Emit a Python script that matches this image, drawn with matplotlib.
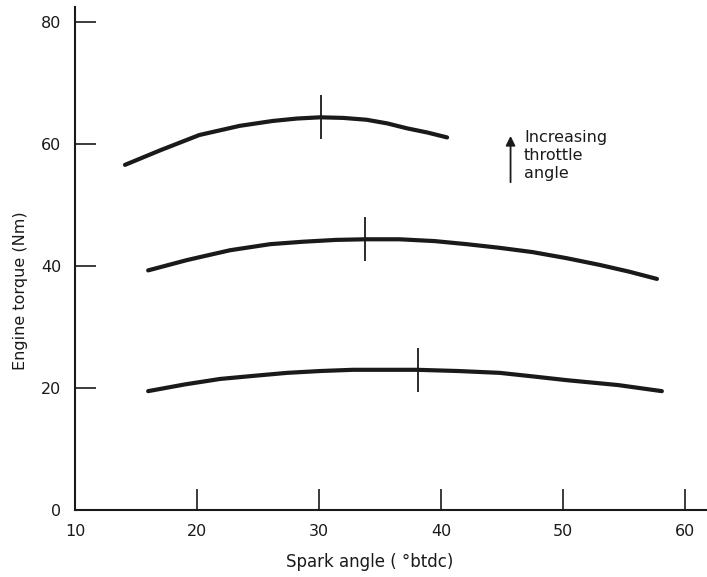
import matplotlib
matplotlib.use("Agg")
import matplotlib.pyplot as plt

# spark angle (deg btdc) vs engine torque (Nm)
top_x = [14.1, 17.0, 20.2, 23.5, 26.2, 28.2, 30.1, 32.0, 33.9, 35.6, 37.2, 38.9, 40.5]
top_y = [56.6, 59.0, 61.5, 63.0, 63.8, 64.2, 64.4, 64.3, 64.0, 63.4, 62.6, 61.9, 61.1]

mid_x = [16.0, 19.2, 22.7, 26.0, 28.7, 31.4, 33.8, 36.6, 39.5, 42.1, 44.8, 47.5, 50.3, 53.0, 55.4, 57.7]
mid_y = [39.3, 41.0, 42.6, 43.6, 44.0, 44.3, 44.4, 44.4, 44.1, 43.6, 43.0, 42.3, 41.3, 40.2, 39.1, 37.9]

low_x = [16.0, 19.0, 21.9, 24.6, 27.4, 30.1, 32.8, 35.4, 38.0, 41.4, 44.8, 47.6, 50.3, 52.4, 54.5, 56.3, 58.1]
low_y = [19.5, 20.6, 21.5, 22.0, 22.5, 22.8, 23.0, 23.0, 23.0, 22.8, 22.5, 21.9, 21.3, 20.9, 20.5, 20.0, 19.5]

# maximum brake torque points (short vertical marks)
mbt_x = [30.2, 33.8, 38.1]
mbt_y = [64.4, 44.4, 23.0]

xticks = [10, 20, 30, 40, 50, 60]
yticks = [0, 20, 40, 60, 80]

plt.rcParams["font.family"] = "DejaVu Sans"
ink = "#1a1a1a"

fig = plt.figure(figsize=(7.07, 5.77), dpi=100)
ax = fig.add_axes([0.106, 0.116, 0.894, 0.872])

for xs, ys in [(top_x, top_y), (mid_x, mid_y), (low_x, low_y)]:
    ax.plot(xs, ys, color=ink, linewidth=3.0, solid_capstyle="round",
            solid_joinstyle="round")

ax.plot(mbt_x, mbt_y, linestyle="none", marker="|", markersize=31,
        markeredgewidth=1.3, color=ink)

ax.annotate("", xy=(45.7, 61.8), xytext=(45.7, 53.3),
            arrowprops=dict(arrowstyle="-|>", color=ink, lw=1.3,
                            mutation_scale=14))
ax.text(46.8, 62.3, "Increasing\nthrottle\nangle", fontsize=11.5,
        color=ink, va="top", ha="left", linespacing=1.25)

ax.set_xlim(10, 61.8)
ax.set_ylim(0, 82.5)
ax.set_xticks(xticks)
ax.set_yticks(yticks)
ax.tick_params(direction="in", length=15, width=1.2, colors=ink,
               labelsize=11.5, pad=10)

ax.spines["top"].set_visible(False)
ax.spines["right"].set_visible(False)
for s in ["left", "bottom"]:
    ax.spines[s].set_linewidth(1.5)
    ax.spines[s].set_color(ink)

ax.set_xlabel("Spark angle ( °btdc)", fontsize=12, color=ink)
ax.set_ylabel("Engine torque (Nm)", fontsize=11.5, color=ink)
ax.xaxis.set_label_coords(0.467, -0.085)
ax.yaxis.set_label_coords(-0.075, 0.437)

fig.savefig("out.png", dpi=100)
